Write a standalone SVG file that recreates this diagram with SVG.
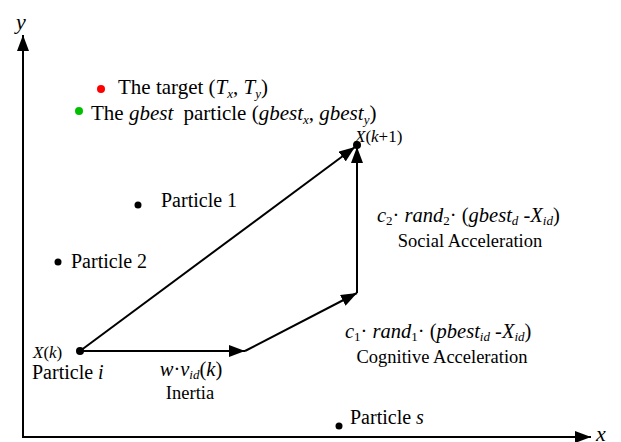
<svg xmlns="http://www.w3.org/2000/svg" width="621" height="442" viewBox="0 0 621 442">
<defs>
<style>
text{font-family:"Liberation Serif","Times New Roman",serif;fill:#000}
.t{font-size:20px}
.h{font-size:21px}
.s{font-size:18.5px}
.f{font-size:20.5px}
.i{font-style:italic}
.sub{font-size:13px}
.ln{stroke:#000;stroke-width:2;fill:none}
</style>
<marker id="ah" viewBox="0 0 16 12" refX="16" refY="6" markerWidth="16" markerHeight="12" markerUnits="userSpaceOnUse" orient="auto">
<path d="M0,0 L16,6 L0,12 Z" fill="#000"/>
</marker>
</defs>
<rect width="621" height="442" fill="#fff"/>

<g id="axes">
<line class="ln" x1="23" y1="437" x2="23" y2="35" marker-end="url(#ah)"/>
<line class="ln" x1="22" y1="437" x2="591" y2="437" marker-end="url(#ah)"/>
<text x="16" y="29" class="i" font-size="22">y</text>
<text x="596" y="441" class="i" font-size="22">x</text>
</g>

<g id="connectors">
<line class="ln" x1="80" y1="351" x2="245" y2="351" marker-end="url(#ah)"/>
<line class="ln" x1="245" y1="351" x2="357" y2="293" marker-end="url(#ah)"/>
<line class="ln" x1="357" y1="293" x2="357" y2="147" marker-end="url(#ah)"/>
<line class="ln" x1="80" y1="351" x2="355" y2="147" marker-end="url(#ah)"/>
</g>

<g id="legend-target">
<circle cx="101" cy="89" r="4" fill="#ff0000"/>
<text x="118" y="94" class="h">The target (<tspan class="i">T</tspan><tspan class="i sub" dy="4">x</tspan><tspan dy="-4">, </tspan><tspan class="i">T</tspan><tspan class="i sub" dy="4">y</tspan><tspan dy="-4">)</tspan></text>
</g>

<g id="legend-gbest">
<circle cx="79" cy="111" r="4" fill="#00c000"/>
<text x="91" y="120" class="h">The <tspan class="i">gbest</tspan><tspan dx="5"> particle (</tspan><tspan class="i">gbest</tspan><tspan class="i sub" dy="4">x</tspan><tspan dy="-4">, </tspan><tspan class="i">gbest</tspan><tspan class="i sub" dy="4">y</tspan><tspan dy="-4">)</tspan></text>
</g>

<g id="node-xk1">
<circle cx="357" cy="145" r="4" fill="#000"/>
<text x="355" y="142" font-size="17"><tspan class="i">X</tspan>(<tspan class="i">k</tspan>+1)</text>
</g>

<g id="node-p1">
<circle cx="138" cy="205" r="3.5" fill="#000"/>
<text x="161" y="207" class="t">Particle 1</text>
</g>

<g id="node-p2">
<circle cx="58" cy="262" r="3.5" fill="#000"/>
<text x="71" y="268" class="t">Particle 2</text>
</g>

<g id="node-xk">
<circle cx="80" cy="351" r="4" fill="#000"/>
<text x="33" y="358" font-size="17"><tspan class="i">X</tspan>(<tspan class="i">k</tspan>)</text>
<text x="32" y="379" class="t">Particle <tspan class="i">i</tspan></text>
</g>

<g id="node-ps">
<circle cx="339" cy="426" r="3.5" fill="#000"/>
<text x="350" y="424" class="t">Particle <tspan class="i">s</tspan></text>
</g>

<g id="label-inertia">
<text x="191" y="376" class="f" text-anchor="middle"><tspan class="i">w</tspan>·<tspan class="i">v</tspan><tspan class="i sub" dy="3">id</tspan><tspan dy="-3">(</tspan><tspan class="i">k</tspan>)</text>
<text x="190" y="399" class="s" text-anchor="middle">Inertia</text>
</g>

<g id="label-cognitive">
<text x="345" y="338" class="f"><tspan class="i">c</tspan><tspan class="sub" dy="3">1</tspan><tspan dy="-3">· </tspan><tspan class="i">rand</tspan><tspan class="sub" dy="3">1</tspan><tspan dy="-3">· (</tspan><tspan class="i">pbest</tspan><tspan class="i sub" dy="3">id</tspan><tspan dy="-3"> -</tspan><tspan class="i">X</tspan><tspan class="i sub" dy="3">id</tspan><tspan dy="-3">)</tspan></text>
<text x="442" y="363" class="s" text-anchor="middle">Cognitive Acceleration</text>
</g>

<g id="label-social">
<text x="377" y="222" class="f"><tspan class="i">c</tspan><tspan class="sub" dy="3">2</tspan><tspan dy="-3">· </tspan><tspan class="i">rand</tspan><tspan class="sub" dy="3">2</tspan><tspan dy="-3">· (</tspan><tspan class="i">gbest</tspan><tspan class="i sub" dy="3">d</tspan><tspan dy="-3"> -</tspan><tspan class="i">X</tspan><tspan class="i sub" dy="3">id</tspan><tspan dy="-3">)</tspan></text>
<text x="470" y="247" class="s" text-anchor="middle">Social Acceleration</text>
</g>
</svg>
